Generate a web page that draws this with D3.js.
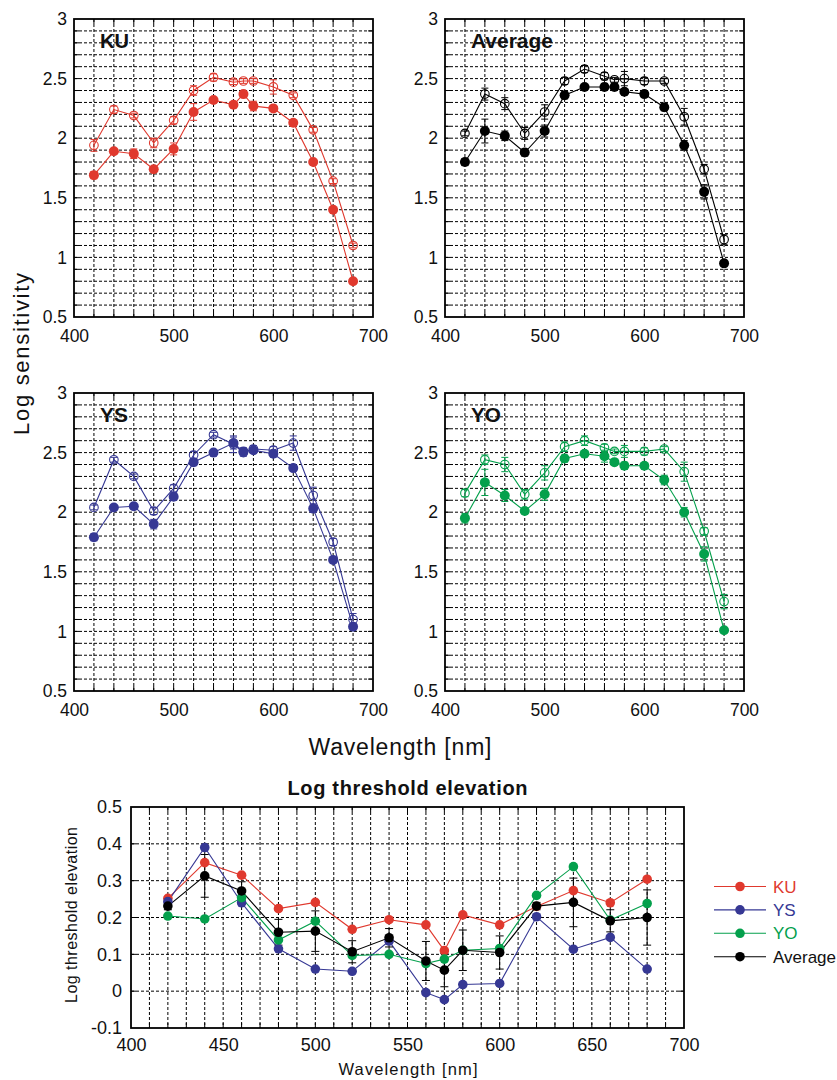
<!DOCTYPE html>
<html>
<head>
<meta charset="utf-8">
<script src="https://cdn.jsdelivr.net/npm/d3@7"></script>
<style>
  body { margin: 0; background: #fff; }
  svg { font-family: "Liberation Sans", Arial, Helvetica, sans-serif; }
</style>
</head>
<body>
<svg id="chart" width="837" height="1080"></svg>
<script>
// wavelengths (nm)
var wl = [420, 440, 460, 480, 500, 520, 540, 560, 570, 580, 600, 620, 640, 660, 680]

// log sensitivity, filled = closed symbols, open = open symbols
var kuFilled = [1.69, 1.89, 1.87, 1.74, 1.91, 2.22, 2.32, 2.28, 2.37, 2.27, 2.25, 2.13, 1.80, 1.40, 0.80]
var kuOpen   = [1.94, 2.24, 2.19, 1.96, 2.15, 2.40, 2.51, 2.47, 2.48, 2.48, 2.43, 2.36, 2.07, 1.64, 1.10]
var kuFilledErr = [0.03, 0.02, 0.04, 0.02, 0.05, 0.07, 0.02, 0.02, 0.02, 0.04, 0.02, 0.02, 0.02, 0.02, 0.02]
var kuOpenErr   = [0.05, 0.03, 0.02, 0.04, 0.03, 0.04, 0.03, 0.02, 0.02, 0.02, 0.06, 0.02, 0.02, 0.02, 0.02]

var avgFilled = [1.80, 2.06, 2.02, 1.88, 2.06, 2.36, 2.43, 2.43, 2.43, 2.39, 2.37, 2.26, 1.94, 1.55, 0.95]
var avgOpen   = [2.04, 2.37, 2.29, 2.04, 2.22, 2.48, 2.58, 2.52, 2.49, 2.50, 2.48, 2.48, 2.18, 1.74, 1.15]
var avgFilledErr = [0.03, 0.10, 0.04, 0.03, 0.05, 0.03, 0.02, 0.03, 0.03, 0.02, 0.02, 0.03, 0.04, 0.06, 0.02]
var avgOpenErr   = [0.02, 0.05, 0.05, 0.05, 0.06, 0.03, 0.03, 0.03, 0.02, 0.06, 0.03, 0.02, 0.07, 0.04, 0.04]

var ysFilled = [1.79, 2.04, 2.05, 1.90, 2.13, 2.42, 2.50, 2.58, 2.51, 2.52, 2.49, 2.37, 2.03, 1.60, 1.04]
var ysOpen   = [2.04, 2.44, 2.30, 2.01, 2.20, 2.48, 2.65, 2.57, 2.50, 2.53, 2.52, 2.58, 2.14, 1.75, 1.10]
var ysFilledErr = [0.03, 0.02, 0.02, 0.04, 0.03, 0.03, 0.02, 0.05, 0.03, 0.02, 0.02, 0.02, 0.03, 0.02, 0.02]
var ysOpenErr   = [0.02, 0.02, 0.02, 0.03, 0.03, 0.03, 0.02, 0.07, 0.03, 0.03, 0.03, 0.06, 0.07, 0.03, 0.05]

var yoFilled = [1.95, 2.25, 2.14, 2.01, 2.15, 2.45, 2.49, 2.47, 2.42, 2.39, 2.39, 2.27, 2.00, 1.65, 1.01]
var yoOpen   = [2.16, 2.44, 2.40, 2.15, 2.33, 2.55, 2.60, 2.54, 2.51, 2.51, 2.51, 2.53, 2.34, 1.84, 1.25]
var yoFilledErr = [0.04, 0.11, 0.05, 0.02, 0.05, 0.03, 0.02, 0.05, 0.02, 0.03, 0.02, 0.04, 0.04, 0.06, 0.02]
var yoOpenErr   = [0.03, 0.04, 0.06, 0.04, 0.06, 0.04, 0.04, 0.03, 0.02, 0.05, 0.03, 0.02, 0.08, 0.03, 0.06]

// log threshold elevation
var thrKU  = [0.252, 0.349, 0.315, 0.224, 0.241, 0.168, 0.194, 0.180, 0.110, 0.207, 0.180, 0.230, 0.273, 0.240, 0.304]
var thrYS  = [0.243, 0.390, 0.240, 0.115, 0.060, 0.054, 0.136, -0.004, -0.023, 0.018, 0.021, 0.202, 0.114, 0.146, 0.060]
var thrYO  = [0.204, 0.196, 0.254, 0.139, 0.190, 0.097, 0.100, 0.075, 0.087, 0.111, 0.116, 0.260, 0.338, 0.193, 0.238]
var thrAvg = [0.231, 0.313, 0.272, 0.160, 0.163, 0.107, 0.145, 0.082, 0.057, 0.111, 0.105, 0.231, 0.241, 0.191, 0.200]
var thrAvgErr = [0.01, 0.058, 0.025, 0.035, 0.055, 0.03, 0.025, 0.053, 0.045, 0.055, 0.045, 0.01, 0.066, 0.03, 0.075]

var sensTicks = [0.5, 1, 1.5, 2, 2.5, 3]
var wlTicks = [400, 500, 600, 700]
var thrTicks = [-0.1, 0, 0.1, 0.2, 0.3, 0.4, 0.5]
var thrWlTicks = [400, 450, 500, 550, 600, 650, 700]

var RED = '#e0392e', BLUE = '#363894', GREEN = '#04a04c', BLACK = '#000'

var svg = d3.select('#chart')

// grid + frame + little inside ticks
function drawFrame(g, xScale, yScale, xGrid, yGrid, w, h) {
    g.selectAll('.vg').data(xGrid).enter().append('line')
        .attr('x1', function(d){return xScale(d)}).attr('x2', function(d){return xScale(d)})
        .attr('y1', 0).attr('y2', h)
        .attr('stroke', '#000').attr('stroke-width', 1).attr('stroke-dasharray', '3,2')
    g.selectAll('.hg').data(yGrid).enter().append('line')
        .attr('y1', function(d){return yScale(d)}).attr('y2', function(d){return yScale(d)})
        .attr('x1', 0).attr('x2', w)
        .attr('stroke', '#000').attr('stroke-width', 1).attr('stroke-dasharray', '3,2')
    // inside ticks
    var t = 5
    xGrid.forEach(function(d){
        g.append('line').attr('x1', xScale(d)).attr('x2', xScale(d)).attr('y1', h).attr('y2', h - t).attr('stroke', '#000')
        g.append('line').attr('x1', xScale(d)).attr('x2', xScale(d)).attr('y1', 0).attr('y2', t).attr('stroke', '#000')
    })
    yGrid.forEach(function(d){
        g.append('line').attr('y1', yScale(d)).attr('y2', yScale(d)).attr('x1', 0).attr('x2', t).attr('stroke', '#000')
        g.append('line').attr('y1', yScale(d)).attr('y2', yScale(d)).attr('x1', w).attr('x2', w - t).attr('stroke', '#000')
    })
    g.append('rect').attr('width', w).attr('height', h)
        .attr('fill', 'none').attr('stroke', '#000').attr('stroke-width', 1.8)
}

function drawAxes(g, xScale, yScale, xTicks, yTicks, h, fs, xPad, yPad) {
    var xAx = d3.axisBottom(xScale).tickValues(xTicks).tickSize(0).tickPadding(xPad)
        .tickFormat(function(d){return String(d)})
    var yAx = d3.axisLeft(yScale).tickValues(yTicks).tickSize(0).tickPadding(yPad)
        .tickFormat(function(d){return String(d)})
    var gx = g.append('g').attr('transform', 'translate(0,' + h + ')').call(xAx)
    var gy = g.append('g').call(yAx)
    ;[gx, gy].forEach(function(a){
        a.select('.domain').remove()
        a.selectAll('text').attr('font-size', fs).attr('fill', '#111')
            .style('font-family', '"Liberation Sans", Arial, sans-serif')
    })
}

function errBars(g, xScale, yScale, vals, errs, color, cap) {
    wl.forEach(function(w, i){
        var x = xScale(w), y0 = yScale(vals[i] - errs[i]), y1 = yScale(vals[i] + errs[i])
        g.append('line').attr('x1', x).attr('x2', x).attr('y1', y0).attr('y2', y1).attr('stroke', color).attr('stroke-width', 1)
        g.append('line').attr('x1', x - cap).attr('x2', x + cap).attr('y1', y0).attr('y2', y0).attr('stroke', color).attr('stroke-width', 1)
        g.append('line').attr('x1', x - cap).attr('x2', x + cap).attr('y1', y1).attr('y2', y1).attr('stroke', color).attr('stroke-width', 1)
    })
}

function drawPanel(left, top, title, titleLen, filled, open, filledErr, openErr, color) {
    var w = 299, h = 298
    var g = svg.append('g').attr('transform', 'translate(' + left + ',' + top + ')')
    var xScale = d3.scaleLinear().domain([400, 700]).range([0, w])
    var yScale = d3.scaleLinear().domain([0.5, 3]).range([h, 0])
    drawFrame(g, xScale, yScale, d3.range(420, 700, 20), d3.range(6, 30).map(function(d){return d / 10}), w, h)
    drawAxes(g, xScale, yScale, wlTicks, sensTicks, h, 17.5, 13, 7)

    g.append('text').attr('x', 26).attr('y', 29).text(title)
        .attr('font-size', 20).attr('font-weight', 'bold').attr('fill', '#111')
        .attr('textLength', titleLen).attr('lengthAdjust', 'spacingAndGlyphs')

    var line = d3.line().x(function(d){return xScale(d[0])}).y(function(d){return yScale(d[1])})
    ;[filled, open].forEach(function(s){
        g.append('path').datum(wl.map(function(w, i){return [w, s[i]]}))
            .attr('d', line).attr('fill', 'none').attr('stroke', color).attr('stroke-width', 1.1)
    })
    errBars(g, xScale, yScale, open, openErr, color, 3.5)
    errBars(g, xScale, yScale, filled, filledErr, color, 3.5)

    g.selectAll('.op').data(open).enter().append('circle')
        .attr('cx', function(d, i){return xScale(wl[i])}).attr('cy', function(d){return yScale(d)})
        .attr('r', 4.3).attr('fill', 'none').attr('stroke', color).attr('stroke-width', 1.1)
    g.selectAll('.fl').data(filled).enter().append('circle')
        .attr('cx', function(d, i){return xScale(wl[i])}).attr('cy', function(d){return yScale(d)})
        .attr('r', 5).attr('fill', color)
}

drawPanel(74, 19, 'KU', 29, kuFilled, kuOpen, kuFilledErr, kuOpenErr, RED)
drawPanel(445, 19, 'Average', 82, avgFilled, avgOpen, avgFilledErr, avgOpenErr, BLACK)
drawPanel(74, 393, 'YS', 28, ysFilled, ysOpen, ysFilledErr, ysOpenErr, BLUE)
drawPanel(445, 393, 'YO', 30, yoFilled, yoOpen, yoFilledErr, yoOpenErr, GREEN)

svg.append('text').attr('transform', 'translate(29,354) rotate(-90)')
    .attr('text-anchor', 'middle').attr('font-size', 22).attr('fill', '#111')
    .attr('textLength', 162).attr('lengthAdjust', 'spacing').text('Log sensitivity')
svg.append('text').attr('x', 400).attr('y', 755)
    .attr('text-anchor', 'middle').attr('font-size', 23).attr('fill', '#111')
    .attr('textLength', 183).attr('lengthAdjust', 'spacing').text('Wavelength [nm]')

// ---- threshold elevation chart ----
var bw = 553, bh = 221
var bg = svg.append('g').attr('transform', 'translate(131,807)')
var bx = d3.scaleLinear().domain([400, 700]).range([0, bw])
var by = d3.scaleLinear().domain([-0.1, 0.5]).range([bh, 0])
drawFrame(bg, bx, by, d3.range(410, 700, 10), [0, 0.1, 0.2, 0.3, 0.4], bw, bh)
drawAxes(bg, bx, by, thrWlTicks, thrTicks, bh, 18, 10, 9)

bg.append('text').attr('x', bw / 2).attr('y', -12).attr('text-anchor', 'middle')
    .attr('font-size', 20).attr('font-weight', 'bold').attr('fill', '#111')
    .attr('textLength', 240).attr('lengthAdjust', 'spacing').text('Log threshold elevation')
svg.append('text').attr('transform', 'translate(77,915) rotate(-90)')
    .attr('text-anchor', 'middle').attr('font-size', 16).attr('fill', '#111')
    .attr('textLength', 176).attr('lengthAdjust', 'spacing').text('Log threshold elevation')
svg.append('text').attr('x', 408).attr('y', 1075).attr('text-anchor', 'middle')
    .attr('font-size', 16.5).attr('fill', '#111')
    .attr('textLength', 139).attr('lengthAdjust', 'spacing').text('Wavelength [nm]')

var thrSeries = [
    {name: 'KU', vals: thrKU, color: RED},
    {name: 'YS', vals: thrYS, color: BLUE},
    {name: 'YO', vals: thrYO, color: GREEN},
    {name: 'Average', vals: thrAvg, color: BLACK}
]
var bline = d3.line().x(function(d){return bx(d[0])}).y(function(d){return by(d[1])})
thrSeries.forEach(function(s){
    bg.append('path').datum(wl.map(function(w, i){return [w, s.vals[i]]}))
        .attr('d', bline).attr('fill', 'none').attr('stroke', s.color).attr('stroke-width', 1.1)
})
errBars(bg, bx, by, thrAvg, thrAvgErr, BLACK, 4)
thrSeries.forEach(function(s){
    bg.selectAll(null).data(s.vals).enter().append('circle')
        .attr('cx', function(d, i){return bx(wl[i])}).attr('cy', function(d){return by(d)})
        .attr('r', 4.8).attr('fill', s.color)
})

// legend
var leg = svg.append('g').attr('transform', 'translate(714,886.5)')
thrSeries.forEach(function(s, i){
    var r = leg.append('g').attr('transform', 'translate(0,' + (i * 23.4) + ')')
    r.append('line').attr('x1', 0).attr('x2', 52).attr('stroke', s.color).attr('stroke-width', 1.1)
    r.append('circle').attr('cx', 26).attr('r', 4.8).attr('fill', s.color)
    r.append('text').attr('x', 59).attr('y', 6).attr('font-size', 17)
        .attr('fill', s.color === BLACK ? '#111' : s.color).text(s.name)
})
</script>
</body>
</html>
